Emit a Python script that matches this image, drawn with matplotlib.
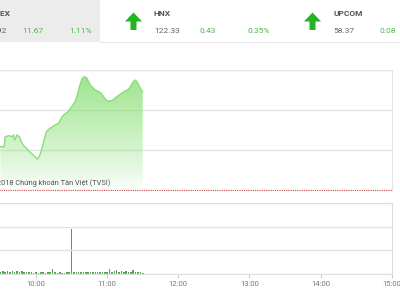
import numpy as np
import matplotlib.pyplot as plt
from matplotlib.patches import Polygon

plt.rcParams['font.family'] = ['Roboto', 'DejaVu Sans']

# header values
indexNames = ["VNINDEX", "HNX", "UPCOM"]
indexValues = ["1063.92", "122.33", "58.37"]
indexChanges = ["11.67", "0.43", "0.08"]
indexPercents = ["1.11%", "0.35%", "0.12%"]

# intraday VN-Index (time, points)
priceTimes = ["09:30", "09:33", "09:34", "09:37", "09:40", "09:41", "09:42", "09:44",
              "09:46", "09:47", "09:49", "09:52", "09:54", "09:56", "09:59", "10:01",
              "10:03", "10:05", "10:08", "10:09", "10:12", "10:14", "10:16", "10:19",
              "10:22", "10:25", "10:27", "10:30", "10:33", "10:34", "10:37", "10:39",
              "10:41", "10:43", "10:45", "10:47", "10:50", "10:53", "10:55", "10:58",
              "11:00", "11:03", "11:05", "11:08", "11:11", "11:14", "11:17", "11:19",
              "11:22", "11:24", "11:26", "11:28", "11:30"]
priceValues = [1057.39, 1057.39, 1058.58, 1058.70, 1058.58, 1058.78, 1058.19, 1058.78,
               1058.58, 1058.19, 1057.59, 1057.20, 1056.88, 1056.61, 1056.21, 1055.93,
               1056.32, 1057.20, 1058.78, 1059.26, 1059.58, 1059.77, 1059.97, 1060.17,
               1060.96, 1061.36, 1061.55, 1062.14, 1062.74, 1063.14, 1064.72, 1065.52,
               1065.71, 1065.52, 1064.92, 1064.52, 1064.13, 1063.92, 1063.73, 1063.14,
               1062.82, 1062.82, 1062.94, 1063.33, 1063.62, 1063.92, 1064.13, 1064.40,
               1065.11, 1065.31, 1064.92, 1064.33, 1063.92]
prevClose = 1052.25

# volume, one bar every 2 minutes from 09:30
volStart = "09:30"
volValues = [0.10, 0.12, 0.09, 0.11, 0.10, 0.12, 0.09, 0.11, 0.10, 0.12,
             0.10, 0.09, 0.07, 0.08, 0.06, 0.07, 0.06, 0.07, 0.09, 0.06,
             0.08, 0.07, 0.20, 0.07, 0.06, 0.07, 0.05, 0.06, 0.07, 0.08,
             1.90, 0.08, 0.10, 0.07, 0.09, 0.08, 0.07, 0.08, 0.07, 0.09,
             0.08, 0.07, 0.08, 0.09, 0.10, 0.08, 0.20, 0.09, 0.11, 0.17,
             0.10, 0.12, 0.09, 0.12, 0.08, 0.10, 0.15, 0.09, 0.10, 0.07, 0.06]

hourTicks = ["10:00", "11:00", "12:00", "13:00", "14:00", "15:00"]


def toMinutes(hhmm: str):
    h, m = hhmm.split(':')
    return (int(h) - 9) * 60 + int(m)


W, H = 400, 300
fig = plt.figure(figsize=(4, 3), dpi=100)
fig.patch.set_facecolor('white')

# pixel helpers: axes placed by pixel box (left, top, right, bottom)
def pxAxes(l, t, r, b):
    return fig.add_axes([l / W, 1 - b / H, (r - l) / W, (b - t) / H])

tMin = np.array([toMinutes(s) for s in priceTimes])
vals = np.array(priceValues)
xLeftPx, xRightPx = -35.1, 391.7

# ---- main price chart
ax = pxAxes(xLeftPx, 70, xRightPx, 190)
yLo, yHi = prevClose, prevClose + 120 / 8.42
ax.set_xlim(0, 360)
ax.set_ylim(yLo, yHi)
ax.set_yticks(np.linspace(yLo, yHi, 4))
ax.yaxis.grid(True, color='#e4e4e4', lw=1)
ax.set_xticks([])
ax.tick_params(left=False, labelleft=False)
for s in ['left', 'bottom']:
    ax.spines[s].set_visible(False)
for s in ['top', 'right']:
    ax.spines[s].set_color('#e4e4e4')

fb = ax.fill_between(tMin, vals, yLo, color='none', lw=0)
grad = np.zeros((256, 1, 4))
grad[:, 0, 0] = 0.56
grad[:, 0, 1] = 0.88
grad[:, 0, 2] = 0.49
grad[:, 0, 3] = 0.02 + 0.83 * np.linspace(0.0, 1.0, 256) ** 0.85
img = ax.imshow(grad, extent=[tMin.min(), tMin.max(), yLo, vals.max()],
                origin='lower', aspect='auto', zorder=2, interpolation='bilinear')
img.set_clip_path(fb.get_paths()[0], transform=ax.transData)
ax.plot(tMin, vals, color='#8ade7a', lw=1, zorder=3)
ax.axhline(prevClose, color='#c0504d', lw=0.8, ls=(0, (1, 1)), zorder=4, clip_on=False)
ax.text(toMinutes("09:22"), yLo + 0.35, "©2018 Chứng khoán Tân Việt (TVSI)",
        fontsize=5.3, color='#555555', va='bottom', ha='left', zorder=5)

# ---- volume chart
axv = pxAxes(xLeftPx, 203, xRightPx, 274)
volT = toMinutes(volStart) + 2 * np.arange(len(volValues))
axv.bar(volT, volValues, width=1.3, color='#4da64d', lw=0)
axv.set_xlim(0, 360)
axv.set_ylim(0, 3)
axv.set_yticks([0, 1, 2, 3])
axv.yaxis.grid(True, color='#e4e4e4', lw=1)
axv.tick_params(left=False, labelleft=False)
axv.set_xticks([toMinutes(s) for s in hourTicks])
axv.set_xticklabels(hourTicks)
axv.tick_params(axis='x', length=3, color='#cccccc', labelsize=5.5,
                labelcolor='#777777', pad=2)
axv.spines['left'].set_visible(False)
for s in ['top', 'right', 'bottom']:
    axv.spines[s].set_color('#dddddd')

# ---- header strip
hd = fig.add_axes([0, 0, 1, 1], zorder=10)
hd.set_xlim(0, W)
hd.set_ylim(H, 0)
hd.axis('off')
hd.patch.set_alpha(0)
hd.add_patch(plt.Rectangle((-60, 0), 160, 42, color='#ececec', lw=0))
hd.plot([100, 400], [42, 42], color='#e8e8e8', lw=0.8)

textLeft = [-24, 154, 333]
arrowCx = [-45, 133.5, 312.5]
for i, name in enumerate(indexNames):
    x0 = textLeft[i]
    hd.text(x0, 13, name, fontsize=6, fontweight='bold', color='#555555', va='center')
    hd.text(x0, 31, indexValues[i], fontsize=6, color='#666666', va='center')
    hd.text(x0 + 46, 31, indexChanges[i], fontsize=6, color='#4cb84c', va='center')
    hd.text(x0 + 93, 31, indexPercents[i], fontsize=6, color='#4cb84c', va='center')
    cx, ty = arrowCx[i], 12.5
    arrow = [(cx, ty), (cx + 8.5, ty + 9), (cx + 3, ty + 9), (cx + 3, ty + 17.5),
             (cx - 3, ty + 17.5), (cx - 3, ty + 9), (cx - 8.5, ty + 9)]
    hd.add_patch(Polygon(arrow, closed=True, color='#22b422', lw=0))

fig.savefig("out.png", dpi=100)
